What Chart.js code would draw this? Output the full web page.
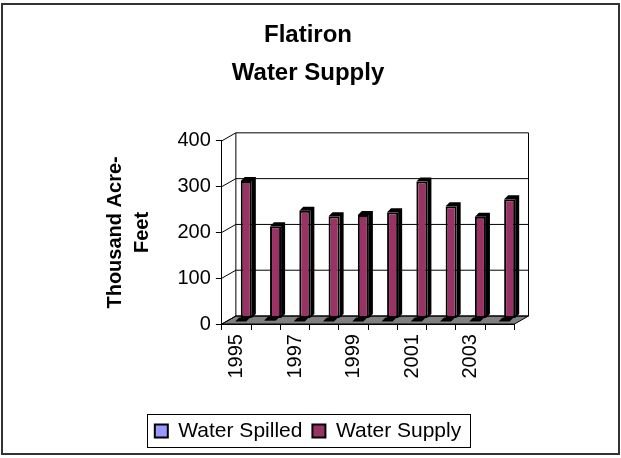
<!DOCTYPE html>
<html>
<head>
<meta charset="utf-8">
<script src="https://cdn.jsdelivr.net/npm/chart.js@4.4.1/dist/chart.umd.min.js"></script>
<style>
  html, body { margin: 0; padding: 0; background: #fff; }
  #wrap { width: 621px; height: 458px; }
</style>
</head>
<body>
<div id="wrap"><canvas id="myChart" width="621" height="458"></canvas></div>
<script>
// values
const years = ['1995', '1996', '1997', '1998', '1999', '2000', '2001', '2002', '2003', '2004'];
const waterSpilled = [0, 3, 0, 0, 0, 0, 0, 0, 0, 0];
const waterSupply = [300, 201, 235, 223, 226, 232, 299, 245, 222, 260];
const yTicks = [0, 100, 200, 300, 400];

// fake 3d depth of the plot box
const depthX = 14, depthY = -8;
const rowDepth = [0.3, 0.7];   // spilled row in front, supply row behind

const box3d = {
  id: 'box3d',
  beforeDatasetsDraw(chart) {
    const ctx = chart.ctx;
    const a = chart.chartArea;
    const y = chart.scales.y;
    ctx.save();
    ctx.strokeStyle = '#000';
    ctx.lineWidth = 1;
    // floor
    ctx.fillStyle = '#808080';
    ctx.beginPath();
    ctx.moveTo(a.left, a.bottom);
    ctx.lineTo(a.right, a.bottom);
    ctx.lineTo(a.right + depthX, a.bottom + depthY);
    ctx.lineTo(a.left + depthX, a.bottom + depthY);
    ctx.closePath();
    ctx.fill();
    ctx.stroke();
    // grid on side + back wall
    yTicks.forEach(v => {
      const py = y.getPixelForValue(v);
      ctx.beginPath();
      ctx.moveTo(a.left, py);
      ctx.lineTo(a.left + depthX, py + depthY);
      ctx.lineTo(a.right + depthX, py + depthY);
      ctx.stroke();
    });
    ctx.beginPath();
    ctx.moveTo(a.left + depthX, a.top + depthY);
    ctx.lineTo(a.left + depthX, a.bottom + depthY);
    ctx.moveTo(a.right + depthX, a.top + depthY);
    ctx.lineTo(a.right + depthX, a.bottom + depthY);
    ctx.stroke();
    ctx.restore();
  },
  beforeDatasetDraw(chart, args) {
    const k = rowDepth[args.index];
    chart.ctx.save();
    chart.ctx.translate(depthX * k, depthY * k);
  },
  afterDatasetDraw(chart, args) {
    const ctx = chart.ctx;
    const d = 4, e = -4;
    ctx.fillStyle = '#000';
    args.meta.data.forEach(bar => {
      const p = bar.getProps(['x', 'y', 'base', 'width'], true);
      const l = p.x - p.width / 2, r = p.x + p.width / 2;
      ctx.beginPath();
      ctx.moveTo(l, p.y);
      ctx.lineTo(l + d, p.y + e);
      ctx.lineTo(r + d, p.y + e);
      ctx.lineTo(r + d, p.base + e);
      ctx.lineTo(r, p.base);
      ctx.lineTo(r, p.y);
      ctx.closePath();
      ctx.fill();
    });
    ctx.restore();
  },
  afterDraw(chart) {
    const ctx = chart.ctx;
    const boxes = chart.legend.legendHitBoxes;
    ctx.save();
    ctx.strokeStyle = '#000';
    ctx.lineWidth = 1;
    if (boxes.length) {
      const l = Math.min(...boxes.map(b => b.left)) - 8;
      const r = Math.max(...boxes.map(b => b.left + b.width)) + 9;
      const cy = boxes[0].top + boxes[0].height / 2;
      ctx.strokeRect(Math.round(l) + 0.5, Math.round(cy - 17) + 0.5, Math.round(r - l), 33);
    }
    // outer frame
    ctx.strokeStyle = '#333';
    ctx.lineWidth = 2;
    ctx.strokeRect(2, 4, 617, 450);
    ctx.restore();
  }
};

Chart.defaults.font.family = 'Arial, "Liberation Sans", sans-serif';
Chart.defaults.color = '#000';

new Chart(document.getElementById('myChart'), {
  type: 'bar',
  data: {
    labels: years,
    datasets: [
      {
        label: 'Water Spilled',
        data: waterSpilled,
        backgroundColor: '#9999FF',
        borderColor: '#000',
        borderWidth: 2,
        borderSkipped: false,
        clip: false
      },
      {
        label: 'Water Supply',
        data: waterSupply,
        backgroundColor: '#993366',
        borderColor: '#000',
        borderWidth: 2,
        borderSkipped: false,
        clip: false
      }
    ]
  },
  options: {
    responsive: false,
    animation: false,
    devicePixelRatio: 1,
    grouped: false,
    categoryPercentage: 0.42,
    barPercentage: 0.9,
    layout: { padding: { left: 101.5, right: 106.5, top: 16, bottom: 6.5 } },
    scales: {
      x: {
        grid: { drawOnChartArea: false, tickLength: 6, color: '#000', offset: true },
        border: { color: '#000' },
        ticks: {
          autoSkip: false, minRotation: 90, maxRotation: 90, padding: 4,
          font: { size: 20 }, color: '#000',
          callback: (v, i) => (i % 2 === 0 ? years[i] : '')
        }
      },
      y: {
        min: 0, max: 400,
        grid: { drawOnChartArea: false, tickLength: 6, color: '#000' },
        border: { color: '#000' },
        ticks: { stepSize: 100, padding: 5, font: { size: 20 }, color: '#000' },
        title: {
          display: true,
          text: ['Thousand Acre-', 'Feet'],
          font: { size: 20, weight: 'bold', lineHeight: 1.35 },
          padding: { top: 0, bottom: 17 },
          color: '#000'
        }
      }
    },
    plugins: {
      title: {
        display: true,
        text: ['Flatiron', 'Water Supply'],
        font: { size: 24, weight: 'bold', lineHeight: 1.58 },
        color: '#000',
        padding: { top: 0, bottom: 49 }
      },
      legend: {
        position: 'bottom',
        labels: { boxWidth: 13, boxHeight: 13, font: { size: 21 }, color: '#000', padding: 10 },
        title: { display: true, text: ' ', font: { size: 2, lineHeight: 1 }, padding: { top: 26, bottom: 0 } }
      },
      tooltip: { enabled: false }
    }
  },
  plugins: [box3d]
});
</script>
</body>
</html>
